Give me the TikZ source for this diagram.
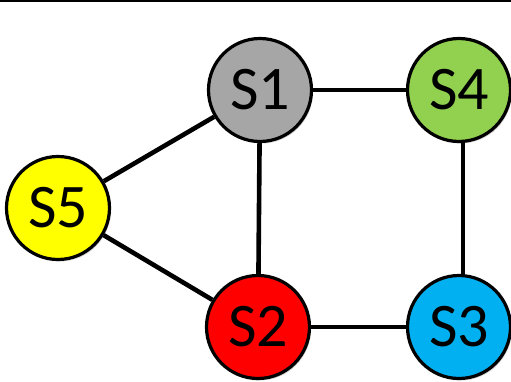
\documentclass[tikz,border=0pt]{standalone}
\usepackage{fontspec}
\setmainfont{Carlito}
\definecolor{cgray}{HTML}{A6A6A6}
\definecolor{cgreen}{HTML}{92D050}
\definecolor{cyellow}{HTML}{FFFF00}
\definecolor{cred}{HTML}{FF0000}
\definecolor{cblue}{HTML}{00B0F0}
\begin{document}
\begin{tikzpicture}[x=1pt,y=1pt,
  sw/.style={circle,draw=black,line width=3.2pt,minimum size=103pt,inner sep=0pt,
    font=\fontsize{62}{62}\selectfont,
    preaction={fill=black!35,opacity=0.5,transform canvas={shift={(1.5pt,-2pt)}}}},
  link/.style={line width=4.6pt,black}]
\useasboundingbox (0,0) rectangle (511,381);
\fill[black] (0,378.5) rectangle (511,381);
\node[sw,fill=cgray]   (S1) at (260,291) {S1};
\node[sw,fill=cgreen]  (S4) at (459,291) {S4};
\node[sw,fill=cyellow] (S5) at (58,173)  {S5};
\node[sw,fill=cred]    (S2) at (258,54)  {S2};
\node[sw,fill=cblue]   (S3) at (459,54)  {S3};
\draw[link] (S1) -- (S4);
\draw[link] (S1) -- (S2);
\draw[link] ([xshift=4pt]S4.south) -- ([xshift=4pt]S3.north);
\draw[link] (S2) -- (S3);
\draw[link] (S5) -- (S1);
\draw[link] (S5) -- (S2);
\end{tikzpicture}
\end{document}
